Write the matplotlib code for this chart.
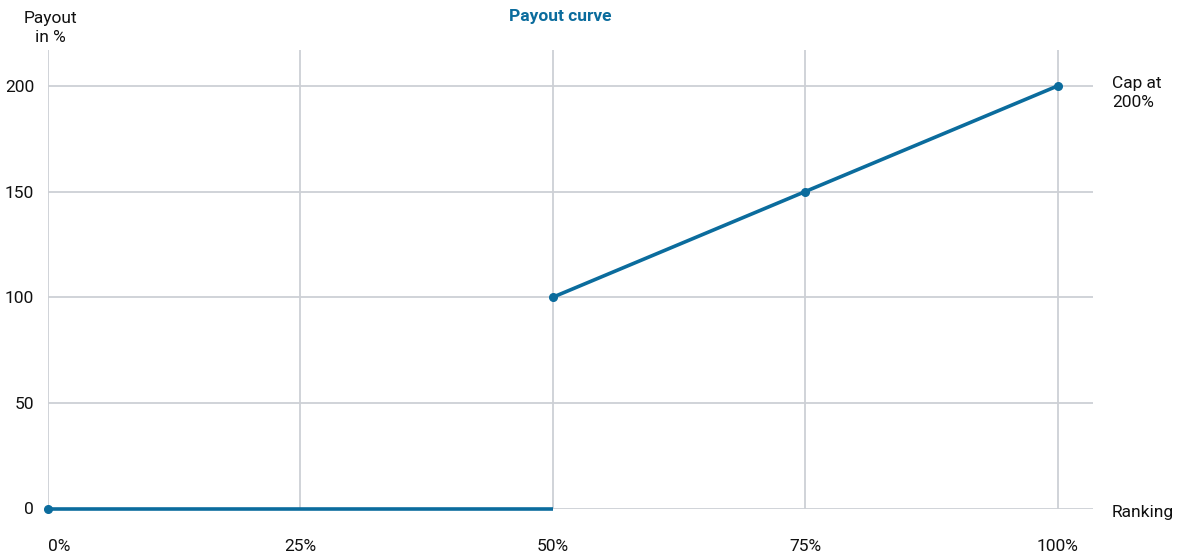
import numpy as np
import matplotlib.pyplot as plt

plt.rcParams['font.family'] = ['Roboto', 'DejaVu Sans']

# 数据
flat_x = [0, 50]
flat_y = [0, 0]
curve_x = [50, 75, 100]
curve_y = [100, 150, 200]
x_ticks = [0, 25, 50, 75, 100]
x_labels = ['0%', '25%', '50%', '75%', '100%']
y_ticks = [0, 50, 100, 150, 200]

blue = '#0b6c9d'
grid = '#cdd0d5'
fs = 12.5

fig = plt.figure(figsize=(11.84, 5.53), dpi=100)
ax = fig.add_axes([48 / 1184, 44.5 / 553, (1093 - 48) / 1184, (508.5 - 50) / 553])

ax.plot(flat_x, flat_y, color=blue, lw=2.6, solid_capstyle='butt', zorder=3, clip_on=False)
ax.plot(flat_x[:1], flat_y[:1], 'o', color=blue, ms=5.5, zorder=4, clip_on=False)
ax.plot(curve_x, curve_y, color=blue, lw=2.6, marker='o', ms=5.5, zorder=3, clip_on=False)

ax.set_xlim(0, 103.5)
ax.set_ylim(0, 217)
ax.set_xticks(x_ticks)
ax.set_xticklabels(x_labels)
ax.set_yticks(y_ticks)
ax.grid(True, color=grid, lw=1.3)
ax.tick_params(length=0, labelsize=fs, colors='#111111')
ax.tick_params(axis='x', pad=22)
ax.tick_params(axis='y', pad=10)
xl = ax.get_xticklabels()
xl[0].set_horizontalalignment('left')
xl[0].set_x(-0.1)
yl = ax.get_yticklabels()
yl[0].set_y(3)
for s in ax.spines.values():
    s.set_visible(False)

fig.text(50 / 1184, 1 - 28 / 553, 'Payout\nin %', ha='center', va='center',
         fontsize=fs, linespacing=1.35, color='#111111')
fig.text(1112 / 1184, 1 - 93 / 553, 'Cap at\n200%', ha='left', va='center',
         fontsize=fs, linespacing=1.35, color='#111111')
fig.text(1112 / 1184, 1 - 512 / 553, 'Ranking', ha='left', va='center',
         fontsize=fs, color='#111111')
fig.text(560 / 1184, 1 - 17 / 553, 'Payout curve', ha='center', va='center',
         fontsize=fs, fontweight='bold', color=blue)

fig.savefig('out.png', dpi=100)
